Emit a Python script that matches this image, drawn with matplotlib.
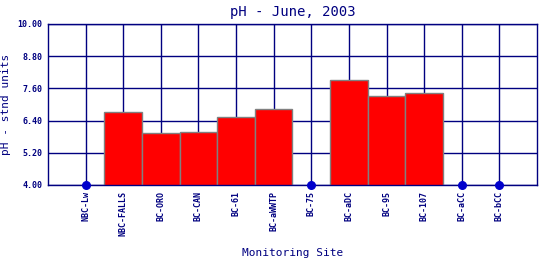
import numpy as np
import matplotlib.pyplot as plt

sites = ["NBC-Lw", "NBC-FALLS", "BC-ORO", "BC-CAN", "BC-61", "BC-aWWTP",
         "BC-75", "BC-aDC", "BC-95", "BC-107", "BC-aCC", "BC-bCC"]
ph = [np.nan, 6.71, 5.93, 5.96, 6.52, 6.83, np.nan, 7.90, 7.31, 7.42, np.nan, np.nan]
yticks = [4.00, 5.20, 6.40, 7.60, 8.80, 10.00]

navy = '#000080'
plt.rcParams['font.family'] = 'DejaVu Sans Mono'

fig = plt.figure(figsize=(5.4, 2.6), dpi=100)
ax = fig.add_axes([0.0889, 0.2885, 0.9055, 0.6192])

x = np.arange(len(sites))
vals = np.array(ph)
has = ~np.isnan(vals)

ax.set_axisbelow(True)
ax.grid(True, color=navy, linewidth=1)
ax.bar(x[has], vals[has], width=1.0, color='#ff0000', edgecolor='#808080', linewidth=1, zorder=2)
ax.scatter(x[~has], np.full((~has).sum(), 4.0), s=30, color='#0000cc', zorder=4, clip_on=False)

ax.set_xlim(-1, len(sites))
ax.set_ylim(4, 10)
ax.set_xticks(x)
ax.set_xticklabels(sites, rotation=90, fontsize=6, color=navy, fontweight='bold')
ax.set_yticks(yticks)
ax.set_yticklabels([f"{v:.2f}" for v in yticks], fontsize=6, color=navy, fontweight='bold')
ax.tick_params(length=0, pad=4)
for s in ax.spines.values():
    s.set_color(navy)
    s.set_linewidth(1)

ax.set_title("pH - June, 2003", fontsize=10, color=navy, pad=6)
ax.set_ylabel("pH - stnd units", fontsize=8, color=navy)
ax.set_xlabel("Monitoring Site", fontsize=8, color=navy)
ax.yaxis.set_label_coords(-0.075, 0.5)
ax.xaxis.set_label_coords(0.5, -0.39)

fig.savefig("out.png", dpi=100)
